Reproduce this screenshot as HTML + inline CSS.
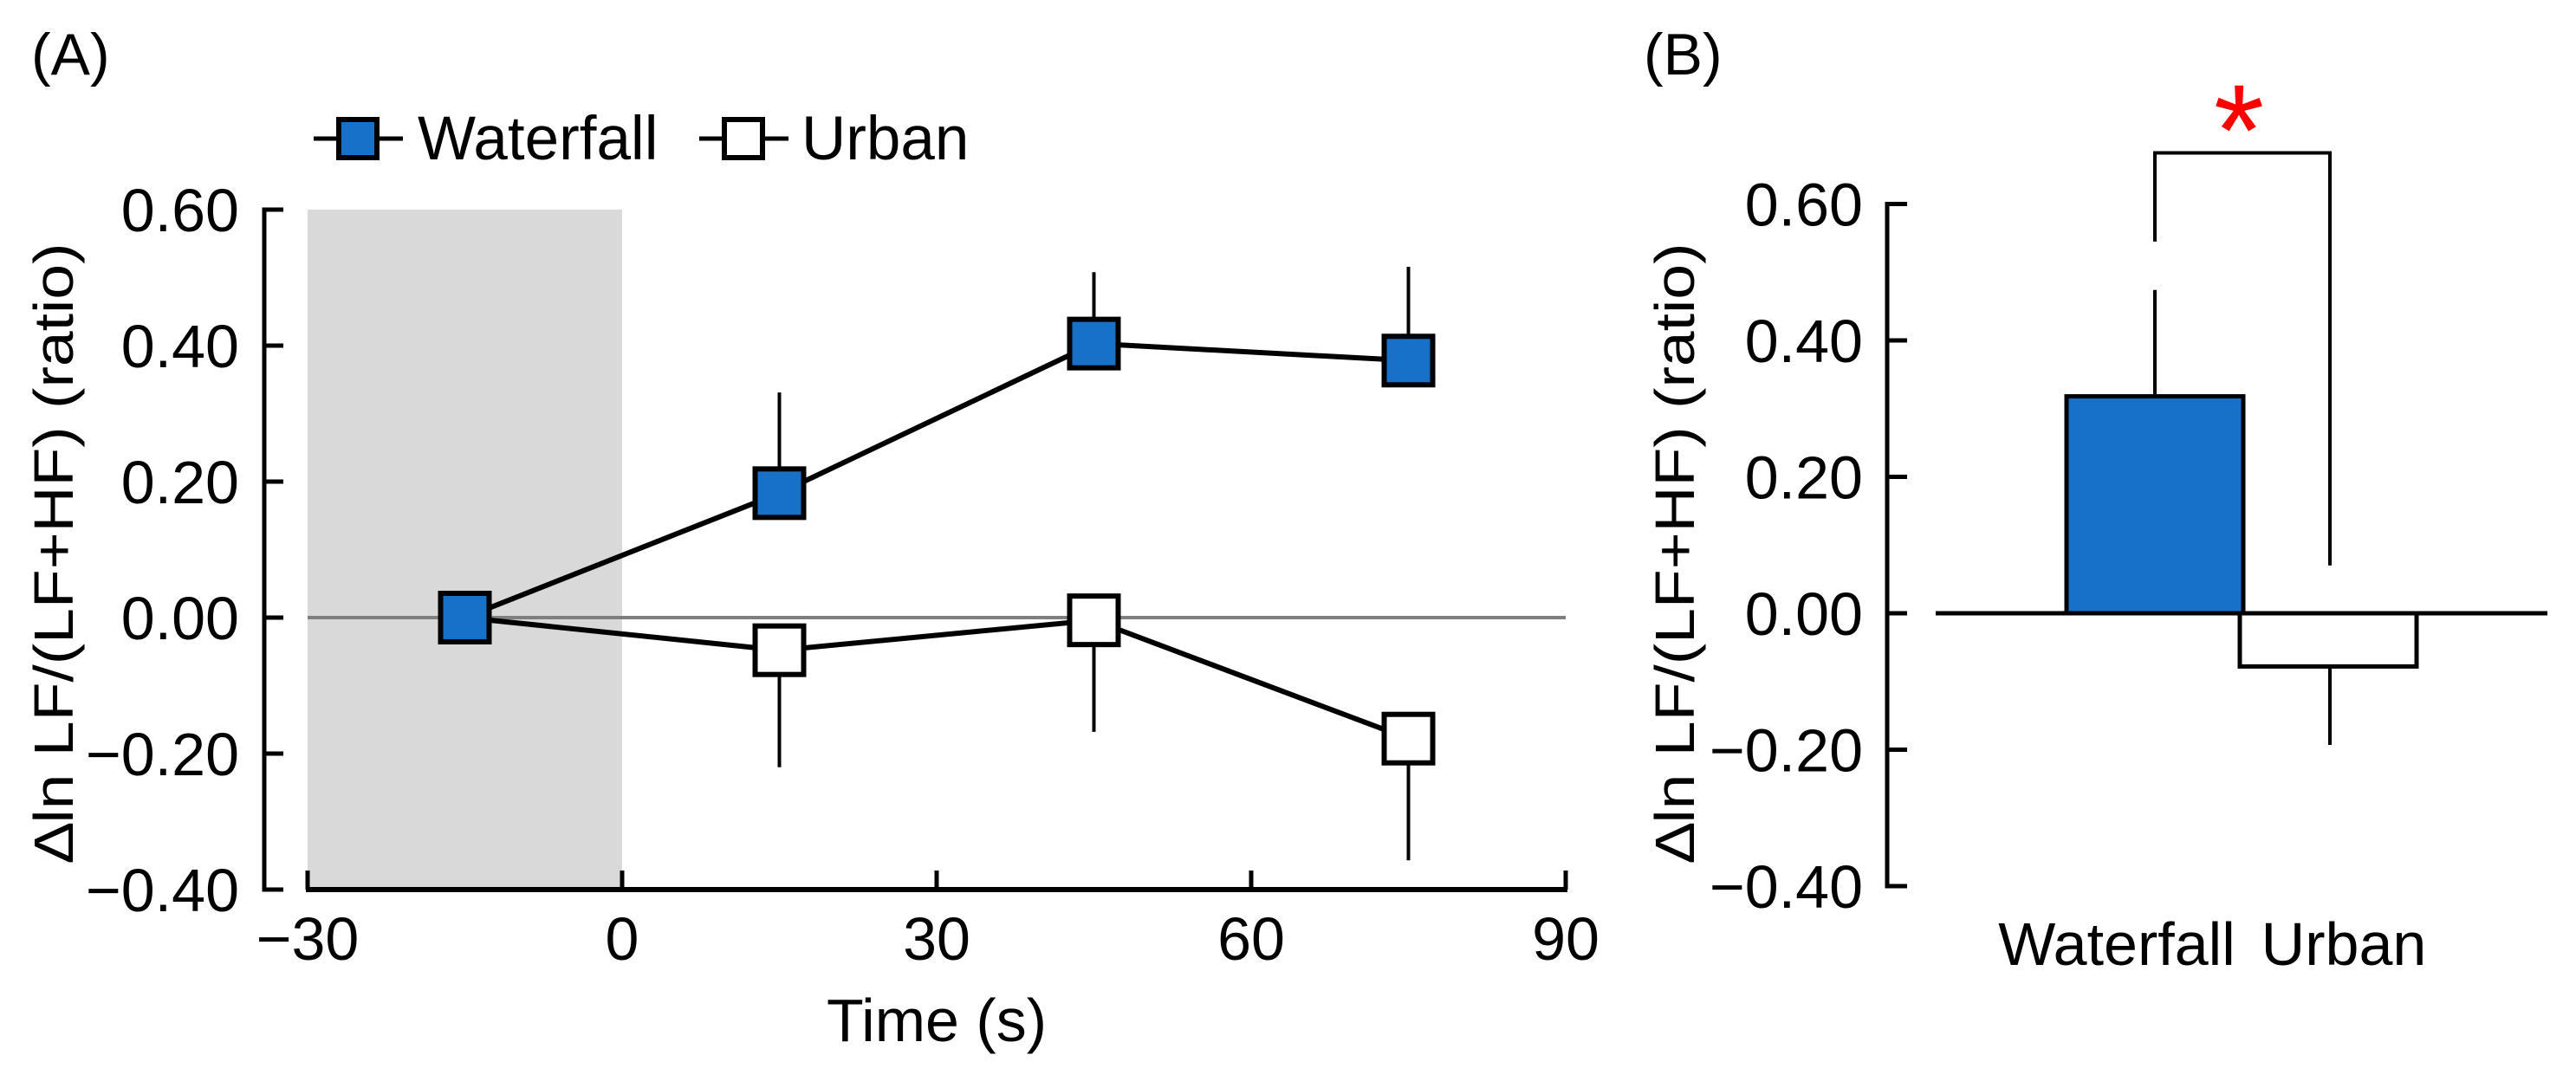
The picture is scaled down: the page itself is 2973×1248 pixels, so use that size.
<!DOCTYPE html>
<html><head><meta charset="utf-8"><style>
html,body{margin:0;padding:0;background:#fff}
svg{display:block}
text{font-family:"Liberation Sans",Arial,sans-serif;fill:#000}
</style></head><body>
<svg id="fig" width="2973" height="1248" viewBox="0 0 2973 1248">
<g id="pa"></g>
<g id="pb"></g>
</svg>
<script>
// Panel A data
const timePoints = [-15, 15, 45, 75];
const waterfallMean = [0.00, 0.183, 0.403, 0.378];
const waterfallErrTop = [0.00, 0.331, 0.508, 0.516];
const urbanMean = [0.00, -0.048, -0.004, -0.178];
const urbanErrBottom = [0.00, -0.22, -0.168, -0.357];
const xTicks = [-30, 0, 30, 60, 90];
const xTickLabels = ["\u221230", "0", "30", "60", "90"];
const yTicks = [0.6, 0.4, 0.2, 0, -0.2, -0.4];
const yTickLabels = ["0.60", "0.40", "0.20", "0.00", "\u22120.20", "\u22120.40"];
// Panel B data
const barCategories = ["Waterfall", "Urban"];
const barValues = [0.318, -0.078];
const barErr = [0.474, -0.193];
const bracketEnds = [0.545, 0.07];
const bracketTop = 0.675;

const NS = "http://www.w3.org/2000/svg";
const BLUE = "#1771c9";
function mk(parent, tag, attrs){const e=document.createElementNS(NS,tag);for(const k in attrs)e.setAttribute(k,attrs[k]);parent.appendChild(e);return e;}

const ax = v => 718 + (v - 0) * (1081 - 718) / 30;
const ay = v => 713 - v * 785;
const by = v => 708 - v * 787.5;

const pa = document.getElementById('pa');
let t;
t = mk(pa,'text',{x:36,y:86,'font-size':68});
t.textContent='(A)';



let shade = mk(pa,'rect',{x:ax(-30),y:ay(0.6),width:ax(0)-ax(-30),height:ay(-0.4)-ay(0.6),fill:'#d9d9d9'});



let zl = mk(pa,'line',{x1:ax(-30),x2:ax(90),y1:ay(0),y2:ay(0),stroke:'#7f7f7f','stroke-width':4});



let yaxA = mk(pa,'path',{d:`M${305+22},${ay(0.6)} H305 V${ay(-0.4)} H327`,fill:'none',stroke:'#000','stroke-width':5});


yTicks.forEach((v,i)=>{
  const tk=mk(pa,'line',{x1:305,x2:327,y1:ay(v),y2:ay(v),stroke:'#000','stroke-width':5});
  
  
  const lb=mk(pa,'text',{x:276,y:ay(v)+25,'font-size':70,'text-anchor':'end'});
  lb.textContent=yTickLabels[i];
  
  
});
let xax = mk(pa,'line',{x1:ax(-30)-2,x2:ax(90)+2,y1:ay(-0.4),y2:ay(-0.4),stroke:'#000','stroke-width':6});


xTicks.forEach((v,i)=>{
  const tk=mk(pa,'line',{x1:ax(v),x2:ax(v),y1:ay(-0.4),y2:ay(-0.4)-22,stroke:'#000','stroke-width':5});
  
  
  const lb=mk(pa,'text',{x:ax(v),y:1108,'font-size':70,'text-anchor':'middle'});
  lb.textContent=xTickLabels[i];
  
  
});
t=mk(pa,'text',{x:ax(30),y:1202,'font-size':70,'text-anchor':'middle'});
t.textContent='Time (s)';


t=mk(pa,'text',{x:0,y:0,'font-size':64,'text-anchor':'middle',transform:'translate(84,638) rotate(-90)',textLength:715,lengthAdjust:'spacingAndGlyphs'});
t.textContent='\u2206ln LF/(LF+HF) (ratio)';



timePoints.forEach((x,i)=>{
  if(waterfallErrTop[i]!==waterfallMean[i]){
    const e=mk(pa,'line',{x1:ax(x),x2:ax(x),y1:ay(waterfallMean[i]),y2:ay(waterfallErrTop[i]),stroke:'#000','stroke-width':4});
    
    
  }
  if(urbanErrBottom[i]!==urbanMean[i]){
    const e=mk(pa,'line',{x1:ax(x),x2:ax(x),y1:ay(urbanMean[i]),y2:ay(urbanErrBottom[i]),stroke:'#000','stroke-width':4});
    
    
  }
});
let ul=mk(pa,'polyline',{points:timePoints.map((x,i)=>ax(x)+','+ay(urbanMean[i])).join(' '),fill:'none',stroke:'#000','stroke-width':6});


let wl=mk(pa,'polyline',{points:timePoints.map((x,i)=>ax(x)+','+ay(waterfallMean[i])).join(' '),fill:'none',stroke:'#000','stroke-width':6});


const S=56;
timePoints.forEach((x,i)=>{
  const m=mk(pa,'rect',{x:ax(x)-S/2,y:ay(urbanMean[i])-S/2,width:S,height:S,fill:'#fff',stroke:'#000','stroke-width':6});
  
  
});
timePoints.forEach((x,i)=>{
  const m=mk(pa,'rect',{x:ax(x)-S/2,y:ay(waterfallMean[i])-S/2,width:S,height:S,fill:BLUE,stroke:'#000','stroke-width':6});
  
  
});
function legend(cx,fill,label,tx,name){
  const g=mk(pa,'g',{});
  
  
  mk(g,'line',{x1:cx-51,x2:cx+52,y1:160,y2:160,stroke:'#000','stroke-width':5});
  mk(g,'rect',{x:cx-22,y:138,width:44,height:44,fill:fill,stroke:'#000','stroke-width':6});
  const tt=mk(g,'text',{x:tx,y:184,'font-size':71});
  tt.textContent=label;
}
legend(413,BLUE,'Waterfall',482,'legend-waterfall');
legend(858,'#fff','Urban',925,'legend-urban');

const pb=document.getElementById('pb');
t=mk(pb,'text',{x:1897,y:86,'font-size':68});
t.textContent='(B)';


let yaxB=mk(pb,'path',{d:`M2201,${by(0.6)} H2178 V${by(-0.4)} H2201`,fill:'none',stroke:'#000','stroke-width':5});


yTicks.forEach((v,i)=>{
  const tk=mk(pb,'line',{x1:2178,x2:2201,y1:by(v),y2:by(v),stroke:'#000','stroke-width':5});
  
  
  const lb=mk(pb,'text',{x:2150,y:by(v)+25,'font-size':70,'text-anchor':'end'});
  lb.textContent=yTickLabels[i];
  
  
});
t=mk(pb,'text',{x:0,y:0,'font-size':64,'text-anchor':'middle',transform:'translate(1955,638) rotate(-90)',textLength:715,lengthAdjust:'spacingAndGlyphs'});
t.textContent='\u2206ln LF/(LF+HF) (ratio)';


const barX=[2385,2585], barW=204, barCx=[2487,2689];
const barFill=[BLUE,'#fff'];
barValues.forEach((v,i)=>{
  const e=mk(pb,'line',{x1:barCx[i],x2:barCx[i],y1:by(v),y2:by(barErr[i]),stroke:'#000','stroke-width':4});
  
  
  const r=mk(pb,'rect',{x:barX[i],y:Math.min(by(v),by(0)),width:barW,height:Math.abs(by(v)-by(0)),fill:barFill[i],stroke:'#000','stroke-width':5});
  
  
  const lb=mk(pb,'text',{x:[2443,2705][i],y:1114,'font-size':70,'text-anchor':'middle'});
  lb.textContent=barCategories[i];
  
  
});
let bl=mk(pb,'line',{x1:2234,x2:2940,y1:by(0),y2:by(0),stroke:'#000','stroke-width':5});


let br=mk(pb,'path',{d:`M${barCx[0]},${by(bracketEnds[0])} V${by(bracketTop)} H${barCx[1]} V${by(bracketEnds[1])}`,fill:'none',stroke:'#000','stroke-width':4});


t=mk(pb,'text',{x:2584,y:202,'font-size':150,'text-anchor':'middle',style:'fill:#ff0000'});
t.textContent='*';


</script>
</body></html>
